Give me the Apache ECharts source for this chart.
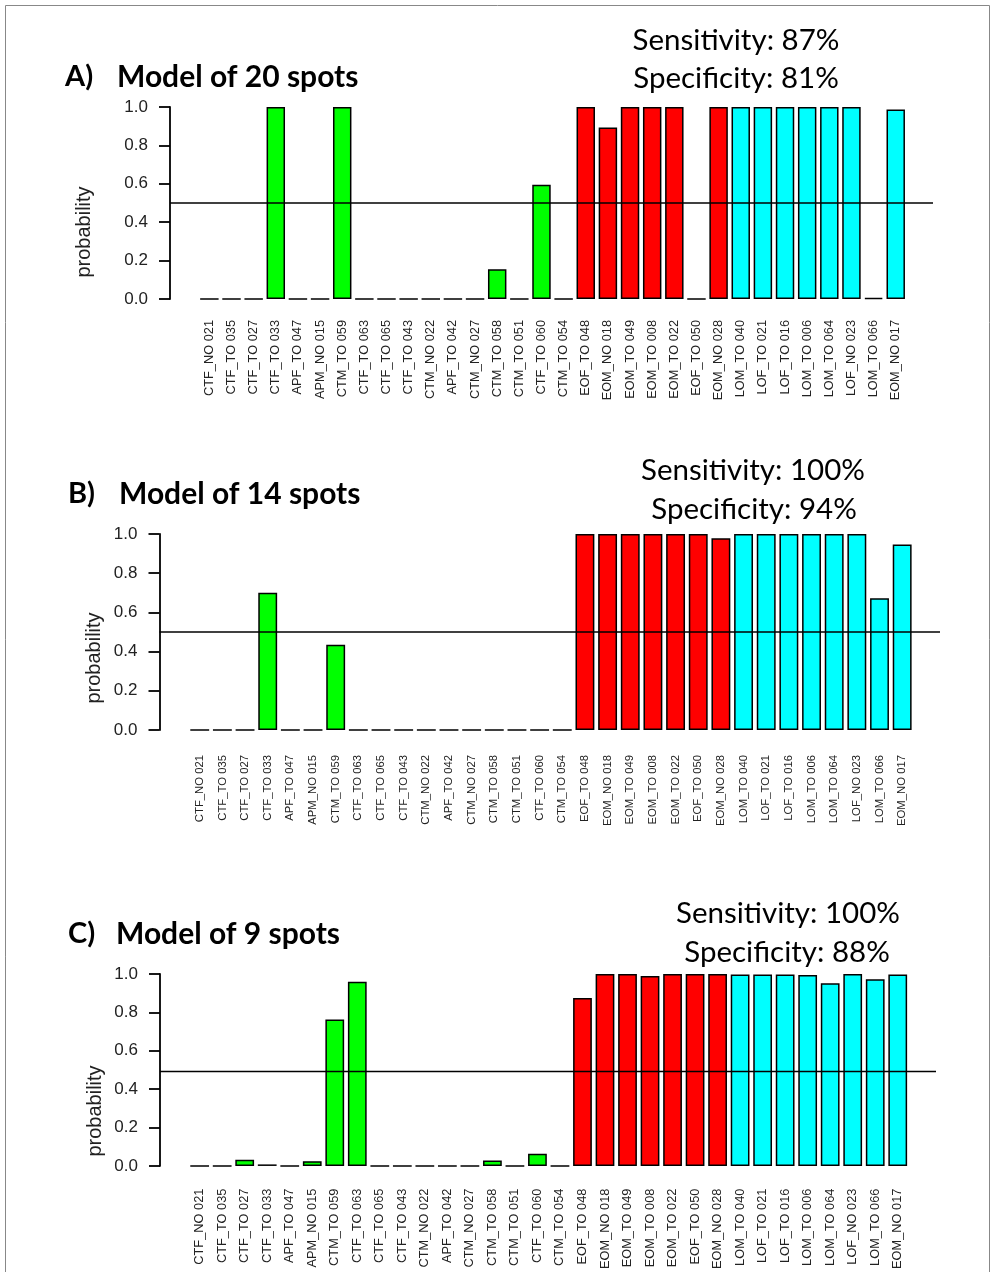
<!DOCTYPE html>
<html><head><meta charset="utf-8">
<script src="https://cdn.jsdelivr.net/npm/echarts@6/dist/echarts.min.js"></script>
<style>html,body{margin:0;padding:0;background:#fff}#c{width:995px;height:1272px}</style>
</head><body><div id="c"></div>
<script>
// ---------- DATA ----------
const categories = ['CTF_NO 021','CTF_TO 035','CTF_TO 027','CTF_TO 033','APF_TO 047','APM_NO 015','CTM_TO 059','CTF_TO 063','CTF_TO 065','CTF_TO 043','CTM_NO 022','APF_TO 042','CTM_NO 027','CTM_TO 058','CTM_TO 051','CTF_TO 060','CTM_TO 054','EOF_TO 048','EOM_NO 018','EOM_TO 049','EOM_TO 008','EOM_TO 022','EOF_TO 050','EOM_NO 028','LOM_TO 040','LOF_TO 021','LOF_TO 016','LOM_TO 006','LOM_TO 064','LOF_NO 023','LOM_TO 066','EOM_NO 017'];
const groups = ['ctrl','ctrl','ctrl','ctrl','ctrl','ctrl','ctrl','ctrl','ctrl','ctrl','ctrl','ctrl','ctrl','ctrl','ctrl','ctrl','ctrl','early','early','early','early','early','early','early','late','late','late','late','late','late','late','late'];
const valuesA = [0,0,0,1.0,0,0,1.0,0,0,0,0,0,0,0.155,0,0.595,0,1.0,0.893,1.0,1.0,1.0,0,1.0,1.0,1.0,1.0,1.0,1.0,1.0,0.005,0.987];
const valuesB = [0,0,0,0.70,0,0,0.435,0,0,0,0,0,0,0,0,0,0,1.0,1.0,1.0,1.0,1.0,1.0,0.978,1.0,1.0,1.0,1.0,1.0,1.0,0.672,0.947];
const valuesC = [0,0,0.032,0.008,0,0.025,0.763,0.96,0,0,0,0,0,0.028,0,0.063,0,0.875,1.0,1.0,0.99,1.0,1.0,1.0,0.997,0.997,0.997,0.995,0.952,1.0,0.973,0.998];
const panelLetters = ['A)','B)','C)'];
const panelTitles = ['Model of 20 spots','Model of 14 spots','Model of 9 spots'];
const sensitivity = ['Sensitivity: 87%','Sensitivity: 100%','Sensitivity: 100%'];
const specificity = ['Specificity: 81%','Specificity: 94%','Specificity: 88%'];
const threshold = 0.5;
const yMin = 0, yMax = 1, yStep = 0.2;
const yName = 'probability';

// ---------- STYLE / LAYOUT ----------
const groupColors = {ctrl:'#00ff00', early:'#ff0000', late:'#00ffff'};
const panels = [
  {values:valuesA, top:107, height:192, gridLeft:198.3, gridWidth:708.5, axisX:170, plotRight:933, labelMargin:21, labelSize:12.8,
   letterX:65, titleX:117, titleY:77, sensX:736, sensY:40, specX:736, specY:78, ylabX:84, ylabY:232},
  {values:valuesB, top:534, height:196, gridLeft:188.4, gridWidth:725.1, axisX:159.5, plotRight:940, labelMargin:25, labelSize:11.3,
   letterX:68, titleX:119, titleY:494, sensX:753, sensY:470, specX:754, specY:509, ylabX:94, ylabY:658},
  {values:valuesC, top:974, height:195, gridLeft:188.4, gridWidth:720.6, axisX:160, plotRight:936, labelMargin:22.7, labelSize:12.8,
   letterX:68, titleX:116, titleY:934, sensX:788, sensY:913, specX:787, specY:952, ylabX:95, ylabY:1111}
];
const sansFont = '"Liberation Sans", Arial, sans-serif';
const titleFont = 'Lato, "Open Sans", sans-serif';

const grid = [], xAxis = [], yAxis = [], series = [], graphic = [];
panels.forEach((p, i) => {
  // bar grid
  grid.push({left:p.gridLeft, top:p.top, width:p.gridWidth, height:p.height, containLabel:false});
  xAxis.push({type:'category', gridIndex:2*i, data:categories,
    axisLine:{show:false}, axisTick:{show:false}, splitLine:{show:false},
    axisLabel:{rotate:90, interval:0, margin:p.labelMargin, fontSize:p.labelSize, fontFamily:sansFont, color:'#222'}});
  yAxis.push({type:'value', gridIndex:2*i, min:yMin, max:yMax, interval:yStep, offset:p.gridLeft - p.axisX,
    axisLine:{show:true, lineStyle:{color:'#000', width:1.8}},
    axisTick:{show:true, length:11, lineStyle:{color:'#000', width:1.8}},
    splitLine:{show:false},
    axisLabel:{margin:22, fontSize:17, fontFamily:sansFont, color:'#222', formatter:v => v.toFixed(1)}});
  series.push({type:'bar', xAxisIndex:2*i, yAxisIndex:2*i, data:p.values, barCategoryGap:'16.67%',
    clip:false, silent:true,
    itemStyle:{borderColor:'#000', borderWidth:1.5, color: params => groupColors[groups[params.dataIndex]]}});
  // threshold grid spanning the full plot region
  grid.push({left:p.axisX, top:p.top, width:p.plotRight - p.axisX, height:p.height});
  xAxis.push({type:'value', gridIndex:2*i+1, min:0, max:1, show:false});
  yAxis.push({type:'value', gridIndex:2*i+1, min:yMin, max:yMax, show:false});
  series.push({type:'line', xAxisIndex:2*i+1, yAxisIndex:2*i+1, data:[[0,threshold],[1,threshold]],
    symbol:'none', silent:true, z:5, lineStyle:{color:'#000', width:1.6}});
  // texts
  graphic.push({type:'text', style:{text:panelLetters[i], x:p.letterX, y:p.titleY, textVerticalAlign:'middle', font:'bold 29px ' + titleFont, fill:'#000'}});
  graphic.push({type:'text', style:{text:panelTitles[i], x:p.titleX, y:p.titleY, textVerticalAlign:'middle', font:'bold 30px ' + titleFont, fill:'#000'}});
  graphic.push({type:'text', style:{text:sensitivity[i], x:p.sensX, y:p.sensY, textAlign:'center', textVerticalAlign:'middle', font:'29.5px ' + titleFont, fill:'#000'}});
  graphic.push({type:'text', style:{text:specificity[i], x:p.specX, y:p.specY, textAlign:'center', textVerticalAlign:'middle', font:'29.5px ' + titleFont, fill:'#000'}});
  graphic.push({type:'text', x:p.ylabX, y:p.ylabY, rotation:Math.PI/2,
    style:{text:yName, x:0, y:0, textAlign:'center', textVerticalAlign:'middle', font:'20px ' + sansFont, fill:'#222'}});
});
graphic.push({type:'rect', z:-1, shape:{x:5.5, y:5.5, width:984, height:1270}, style:{fill:'none', stroke:'#888', lineWidth:1}});

const chart = echarts.init(document.getElementById('c'), null, {renderer:'canvas'});
chart.setOption({animation:false, backgroundColor:'#fff', grid, xAxis, yAxis, series, graphic});
</script>
</body></html>
